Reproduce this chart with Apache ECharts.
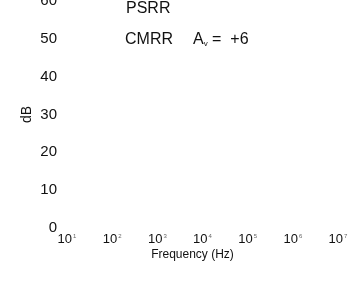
<!DOCTYPE html>
<html>
<head>
<meta charset="utf-8">
<script src="https://cdn.jsdelivr.net/npm/echarts@6/dist/echarts.min.js"></script>
<style>
  html, body { margin: 0; padding: 0; background: #fff; }
  #chart { width: 348px; height: 281px; }
</style>
</head>
<body>
<div id="chart"></div>
<script>
// axis ranges / ticks
const freqMin = 10
const freqMax = 1e7
const dbTicks = [0, 10, 20, 30, 40, 50, 60]

// curve labels (the curves themselves are not visible in the scan)
const curveLabels = ['PSRR', 'CMRR']
const gainLabel = '+6'

const ink = '#111'
const font = 'Liberation Sans, Arial, sans-serif'

const chart = echarts.init(document.getElementById('chart'))

chart.setOption({
  animation: false,
  grid: { left: 67, right: 10, top: 1, bottom: 53, outerBoundsMode: 'none' },
  xAxis: {
    type: 'log',
    logBase: 10,
    min: freqMin,
    max: freqMax,
    splitNumber: 6,
    name: 'Frequency (Hz)',
    nameLocation: 'middle',
    nameGap: 21,
    nameMoveOverlap: false,
    nameTextStyle: { color: ink, fontSize: 12, fontFamily: font, padding: [0, 20, 0, 0] },
    axisLine: { show: false },
    axisTick: { show: false },
    splitLine: { show: false },
    axisLabel: {
      margin: 5,
      interval: 0,
      hideOverlap: false,
      formatter: v => '{b|10}{s|' + Math.round(Math.log10(v)) + '}',
      rich: {
        b: { fontSize: 13, color: ink, fontFamily: font },
        s: { fontSize: 6, color: '#666', fontFamily: font, verticalAlign: 'top', padding: [0, 0, 6, 1] }
      }
    }
  },
  yAxis: {
    type: 'value',
    min: dbTicks[0],
    max: dbTicks[dbTicks.length - 1],
    interval: 10,
    name: 'dB',
    nameLocation: 'middle',
    nameRotate: 90,
    nameGap: 33,
    nameMoveOverlap: false,
    nameTextStyle: { color: ink, fontSize: 14, fontFamily: font },
    axisLine: { show: false },
    axisTick: { show: false },
    splitLine: { show: false },
    axisLabel: { color: ink, fontSize: 15, fontFamily: font, margin: 10 }
  },
  series: [
    { type: 'line', data: [], silent: true }
  ],
  graphic: [
    {
      type: 'text', left: 126, top: 1,
      style: { text: curveLabels[0], fill: ink, fontSize: 16, fontFamily: font }
    },
    {
      type: 'text', left: 125, top: 32,
      style: {
        text: '{n|' + curveLabels[1] + '}{g|A}{v|v}{g| =  ' + gainLabel + '}',
        rich: {
          n: { fontSize: 16, fill: ink, fontFamily: font, width: 68 },
          g: { fontSize: 16, fill: ink, fontFamily: font },
          v: { fontSize: 8, fill: ink, fontFamily: font, verticalAlign: 'bottom', padding: [7, 0, 0, 0] }
        }
      }
    }
  ]
})
</script>
</body>
</html>
